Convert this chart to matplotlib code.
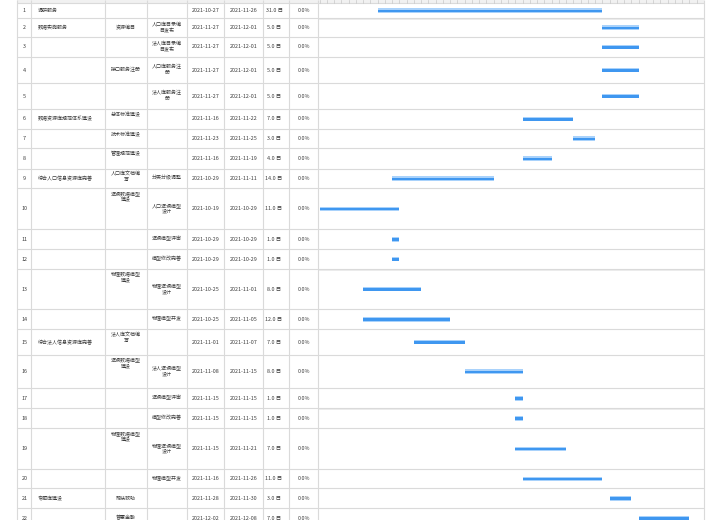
import matplotlib
matplotlib.use('Agg')
import matplotlib.pyplot as plt
import matplotlib.dates as mdates
from datetime import datetime, timedelta

plt.rcParams['font.family'] = ['Noto Sans CJK SC', 'DejaVu Sans']

# ---------------- data ----------------
row_ids = list(range(1, 23))
task_level1 = ["调研服务", "数据实施服务", "", "", "", "数据资源库规范体系建设", "", "",
               "综合人口信息资源库完善", "", "", "", "", "", "综合法人信息资源库完善",
               "", "", "", "", "", "专题库建设", ""]
task_level2 = ["", "资源编目", "", "接口服务注册", "", "总体标准建设", "技术标准建设", "管理规范建设",
               "人口库文档编\n写", "逻辑数据模型\n建设", "", "", "物理数据模型\n建设", "",
               "法人库文档编\n写", "逻辑数据模型\n建设", "", "", "物理数据模型\n建设", "",
               "帮扶救助", "普惠金融"]
task_level3 = ["", "人口库目录编\n目发布", "法人库目录编\n目发布", "人口库服务注\n册", "法人库服务注\n册",
               "", "", "", "分类分级调整", "人口逻辑模型\n设计", "逻辑模型评审", "模型修改完善",
               "物理逻辑模型\n设计", "物理模型开发", "", "法人逻辑模型\n设计", "逻辑模型评审",
               "模型修改完善", "物理逻辑模型\n设计", "物理模型开发", "", ""]
start_dates = ["2021-10-27", "2021-11-27", "2021-11-27", "2021-11-27", "2021-11-27",
               "2021-11-16", "2021-11-23", "2021-11-16", "2021-10-29", "2021-10-19",
               "2021-10-29", "2021-10-29", "2021-10-25", "2021-10-25", "2021-11-01",
               "2021-11-08", "2021-11-15", "2021-11-15", "2021-11-15", "2021-11-16",
               "2021-11-28", "2021-12-02"]
end_dates = ["2021-11-26", "2021-12-01", "2021-12-01", "2021-12-01", "2021-12-01",
             "2021-11-22", "2021-11-25", "2021-11-19", "2021-11-11", "2021-10-29",
             "2021-10-29", "2021-10-29", "2021-11-01", "2021-11-05", "2021-11-07",
             "2021-11-15", "2021-11-15", "2021-11-15", "2021-11-21", "2021-11-26",
             "2021-11-30", "2021-12-08"]
durations = [31.0, 5.0, 5.0, 5.0, 5.0, 7.0, 3.0, 4.0, 14.0, 11.0, 1.0, 1.0,
             8.0, 12.0, 7.0, 8.0, 1.0, 1.0, 7.0, 11.0, 3.0, 7.0]
progress = [0.0] * 22
timeline_start = "2021-10-19"
timeline_end = "2021-12-11"

# ---------------- layout ----------------
W, H = 720, 520
row_edges = [3.3, 18, 37, 57, 83, 109, 129, 148, 169, 188.3, 229.3, 249.3, 269,
             309.3, 329.3, 355, 388.3, 408.3, 428.3, 469.3, 488.3, 508.3, 528]
col_lines = [17, 31, 105, 147, 187, 224, 263, 289, 318, 704]
gantt_x0, gantt_x1 = 319.5, 704
lvl2_top_rows = {6, 7, 8, 9, 10, 13, 15, 16, 19}
grid_c = '#dadada'
txt_c = '#3c3c3c'
fs_cn = 3.6
fs_num = 3.9

fig = plt.figure(figsize=(W / 100, H / 100), dpi=100)
bg = fig.add_axes([0, 0, 1, 1])
bg.set_xlim(0, W)
bg.set_ylim(H, 0)
bg.axis('off')

# header strip (cut off)
bg.fill_between([17, 704], 0, 3.3, color='#f1f1f1', lw=0)

# grid
for y in row_edges:
    bg.plot([17, 704], [y, y], color=grid_c, lw=0.8, solid_capstyle='butt')
for x in col_lines:
    bg.plot([x, x], [0, H], color=grid_c, lw=0.8, solid_capstyle='butt')
for y in [18, 269, 408.3]:
    bg.fill_between([319, 704], y - 0.3, y + 1.8, color='#ececec', lw=0)

# table text
for i in range(22):
    top, bot = row_edges[i], row_edges[i + 1]
    yc = (top + bot) / 2
    bg.text(24.5, yc, str(row_ids[i]), ha='center', va='center', fontsize=fs_num, color=txt_c)
    if task_level1[i]:
        bg.text(38, yc, task_level1[i], ha='left', va='center', fontsize=fs_cn, color=txt_c)
    if task_level2[i]:
        if (i + 1) in lvl2_top_rows:
            bg.text(126, top + 2.6, task_level2[i], ha='center', va='top', fontsize=fs_cn,
                    color=txt_c, linespacing=1.15, multialignment='center')
        else:
            bg.text(126, yc, task_level2[i], ha='center', va='center', fontsize=fs_cn,
                    color=txt_c, linespacing=1.15, multialignment='center')
    if task_level3[i]:
        bg.text(167, yc - 0.5, task_level3[i], ha='center', va='center', fontsize=fs_cn,
                color=txt_c, linespacing=1.15, multialignment='center')
    bg.text(205.5, yc, start_dates[i], ha='center', va='center', fontsize=fs_num, color=txt_c)
    bg.text(243.5, yc, end_dates[i], ha='center', va='center', fontsize=fs_num, color=txt_c)
    bg.text(274, yc, f"{durations[i]:.1f} 日", ha='center', va='center', fontsize=fs_num, color=txt_c)
    bg.text(304, yc, f"{progress[i]:.1f}%", ha='center', va='center', fontsize=fs_num, color=txt_c)

# gantt
gx = fig.add_axes([gantt_x0 / W, 0, (gantt_x1 - gantt_x0) / W, 1])
gx.patch.set_alpha(0)
t0 = datetime.strptime(timeline_start, "%Y-%m-%d")
t1 = datetime.strptime(timeline_end, "%Y-%m-%d")
gx.set_xlim(mdates.date2num(t0), mdates.date2num(t1))
gx.set_ylim(H, 0)
gx.axis('off')

# day ticks in header strip
d = t0
while d <= t1:
    gx.plot([mdates.date2num(d)] * 2, [0, 3.0], color='#c8c8c8', lw=0.5)
    d += timedelta(days=1)

centers = [(row_edges[i] + row_edges[i + 1]) / 2 for i in range(22)]
lefts = [mdates.date2num(datetime.strptime(s, "%Y-%m-%d")) for s in start_dates]
widths = [mdates.date2num(datetime.strptime(e, "%Y-%m-%d")) + 1 - l for e, l in zip(end_dates, lefts)]
gx.barh(centers, widths, left=lefts, height=4.4, color='#a9d2fb', lw=0)
gx.barh([c + 0.3 for c in centers], widths, left=lefts, height=2.4, color='#3f97f0', lw=0)

fig.savefig('out.png', dpi=100)
